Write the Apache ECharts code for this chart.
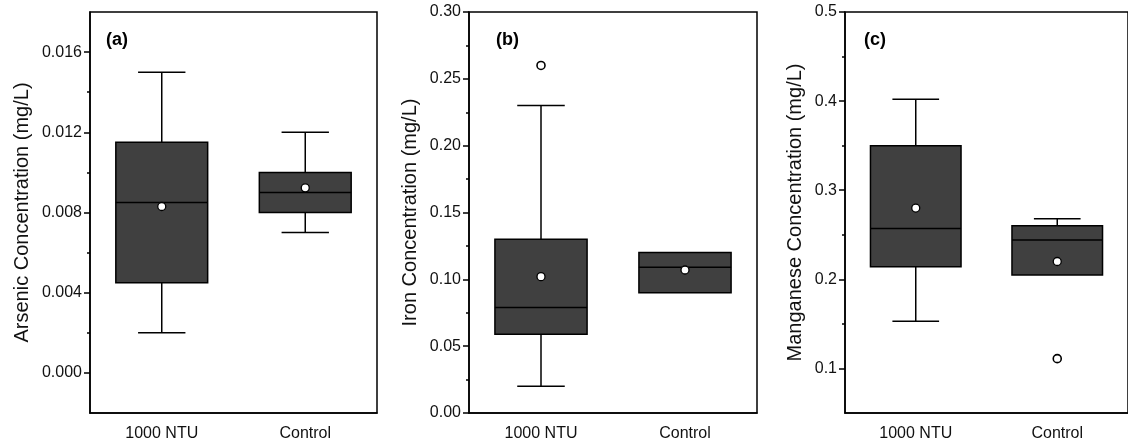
<!DOCTYPE html>
<html>
<head>
<meta charset="utf-8">
<script src="https://cdn.jsdelivr.net/npm/echarts@6/dist/echarts.min.js"></script>
<style>
  html, body { margin: 0; padding: 0; background: #fff; }
  #chart { width: 1128px; height: 444px; }
</style>
</head>
<body>
<div id="chart"></div>
<script>
// Treatment groups
const categories = ['1000 NTU', 'Control'];

// Box statistics per group: [min whisker, Q1, median, Q3, max whisker]
const arsenicBox = [
  [0.002, 0.0045, 0.0085, 0.0115, 0.015],
  [0.007, 0.008, 0.009, 0.010, 0.012]
];
const arsenicMean = [0.0083, 0.00923];
const arsenicOutliers = [];

const ironBox = [
  [0.02, 0.059, 0.079, 0.13, 0.23],
  [0.09, 0.09, 0.109, 0.12, 0.12]
];
const ironMean = [0.102, 0.107];
const ironOutliers = [[0, 0.26]];

const manganeseBox = [
  [0.153, 0.214, 0.257, 0.35, 0.402],
  [0.205, 0.205, 0.244, 0.26, 0.268]
];
const manganeseMean = [0.28, 0.22];
const manganeseOutliers = [[1, 0.111]];

// Axis ticks
const arsenicTicks = [0, 0.004, 0.008, 0.012, 0.016];
const arsenicMinorTicks = [0.002, 0.006, 0.010, 0.014];
const ironTicks = [0, 0.05, 0.10, 0.15, 0.20, 0.25, 0.30];
const ironMinorTicks = [0.025, 0.075, 0.125, 0.175, 0.225, 0.275];
const manganeseTicks = [0.1, 0.2, 0.3, 0.4, 0.5];
const manganeseMinorTicks = [0.15, 0.25, 0.35, 0.45];

const FONT = '"Liberation Sans", Arial, Helvetica, sans-serif';
const BOX_FILL = '#404040';

const panels = [
  {
    tag: '(a)', name: 'Arsenic Concentration (mg/L)',
    box: arsenicBox, mean: arsenicMean, outliers: arsenicOutliers,
    ticks: arsenicTicks, minor: arsenicMinorTicks, decimals: 3,
    min: -0.002, max: 0.018,
    left: 90, right: 751, nameGap: 58, tagLeft: 106
  },
  {
    tag: '(b)', name: 'Iron Concentration (mg/L)',
    box: ironBox, mean: ironMean, outliers: ironOutliers,
    ticks: ironTicks, minor: ironMinorTicks, decimals: 2,
    min: 0, max: 0.30,
    left: 469, right: 371, nameGap: 49, tagLeft: 496
  },
  {
    tag: '(c)', name: 'Manganese Concentration (mg/L)',
    box: manganeseBox, mean: manganeseMean, outliers: manganeseOutliers,
    ticks: manganeseTicks, minor: manganeseMinorTicks, decimals: 1,
    min: 0.05, max: 0.5,
    left: 845, right: -6, nameGap: 40, tagLeft: 864
  }
];

// Box, whiskers and caps drawn through the axis scales
function renderBox(params, api) {
  const cat = api.value(0);
  const lo = api.value(1), q1 = api.value(2), med = api.value(3), q3 = api.value(4), hi = api.value(5);
  const band = api.size([1, 0])[0];
  const bw = band * 0.64;
  const cw = band * 0.33;
  const pLo = api.coord([cat, lo]);
  const pQ1 = api.coord([cat, q1]);
  const pMed = api.coord([cat, med]);
  const pQ3 = api.coord([cat, q3]);
  const pHi = api.coord([cat, hi]);
  const x = pMed[0];
  const lineStyle = { stroke: '#000', lineWidth: 1.5, fill: null };
  const children = [];
  if (hi > q3) {
    children.push({ type: 'line', shape: { x1: x, y1: pHi[1], x2: x, y2: pQ3[1] }, style: lineStyle });
    children.push({ type: 'line', shape: { x1: x - cw / 2, y1: pHi[1], x2: x + cw / 2, y2: pHi[1] }, style: lineStyle });
  }
  if (lo < q1) {
    children.push({ type: 'line', shape: { x1: x, y1: pQ1[1], x2: x, y2: pLo[1] }, style: lineStyle });
    children.push({ type: 'line', shape: { x1: x - cw / 2, y1: pLo[1], x2: x + cw / 2, y2: pLo[1] }, style: lineStyle });
  }
  children.push({
    type: 'rect',
    shape: { x: x - bw / 2, y: pQ3[1], width: bw, height: pQ1[1] - pQ3[1] },
    style: { fill: BOX_FILL, stroke: '#000', lineWidth: 1.5 }
  });
  children.push({ type: 'line', shape: { x1: x - bw / 2, y1: pMed[1], x2: x + bw / 2, y2: pMed[1] }, style: lineStyle });
  return { type: 'group', children: children };
}

const option = {
  animation: false,
  backgroundColor: '#fff',
  grid: [], xAxis: [], yAxis: [], series: [], graphic: []
};

panels.forEach((p, i) => {
  option.grid.push({
    left: p.left, right: p.right, top: 12, bottom: 31,
    show: true, borderColor: '#000', borderWidth: 1.5, backgroundColor: 'transparent'
  });
  option.xAxis.push({
    type: 'category', gridIndex: i, data: categories, boundaryGap: true,
    axisLine: { onZero: false, lineStyle: { color: '#000', width: 1.5 } },
    axisTick: { alignWithLabel: true, length: 6, lineStyle: { color: '#000', width: 1.5 } },
    axisLabel: { color: '#111', fontSize: 16, fontFamily: FONT, margin: 13 },
    splitLine: { show: false }
  });
  option.yAxis.push({
    type: 'value', gridIndex: i, position: 'left', min: p.min, max: p.max,
    axisLine: { show: true, onZero: false, lineStyle: { color: '#000', width: 1.5 } },
    axisTick: { show: true, customValues: p.ticks, length: 6, lineStyle: { color: '#000', width: 1.5 } },
    axisLabel: {
      customValues: p.ticks, color: '#111', fontSize: 16, fontFamily: FONT, margin: 8,
      formatter: (v) => Number(v).toFixed(p.decimals)
    },
    splitLine: { show: false },
    name: p.name, nameLocation: 'middle', nameGap: p.nameGap,
    nameTextStyle: { color: '#111', fontSize: 20, fontFamily: FONT }
  });
  option.yAxis.push({
    type: 'value', gridIndex: i, position: 'left', min: p.min, max: p.max,
    axisLine: { show: false, onZero: false },
    axisTick: { show: true, customValues: p.minor, length: 3, lineStyle: { color: '#000', width: 1.5 } },
    axisLabel: { show: false },
    splitLine: { show: false }
  });

  option.series.push({
    type: 'custom', xAxisIndex: i, yAxisIndex: 2 * i, z: 2,
    renderItem: renderBox,
    encode: { x: 0, y: [1, 2, 3, 4, 5] },
    data: p.box.map((b, k) => [k].concat(b))
  });
  option.series.push({
    type: 'scatter', xAxisIndex: i, yAxisIndex: 2 * i, z: 3,
    symbol: 'circle', symbolSize: 8,
    itemStyle: { color: '#fff', borderColor: '#000', borderWidth: 1.3, opacity: 1 },
    data: p.mean.map((m, k) => [k, m])
  });
  option.series.push({
    type: 'scatter', xAxisIndex: i, yAxisIndex: 2 * i, z: 3,
    symbol: 'circle', symbolSize: 8,
    itemStyle: { color: '#fff', borderColor: '#000', borderWidth: 1.6, opacity: 1 },
    data: p.outliers
  });

  option.graphic.push({
    type: 'text', left: p.tagLeft, top: 31,
    style: { text: p.tag, font: 'bold 18px ' + FONT, fill: '#000' }
  });
});

const chart = echarts.init(document.getElementById('chart'), null, { renderer: 'canvas' });
chart.setOption(option);
</script>
</body>
</html>
